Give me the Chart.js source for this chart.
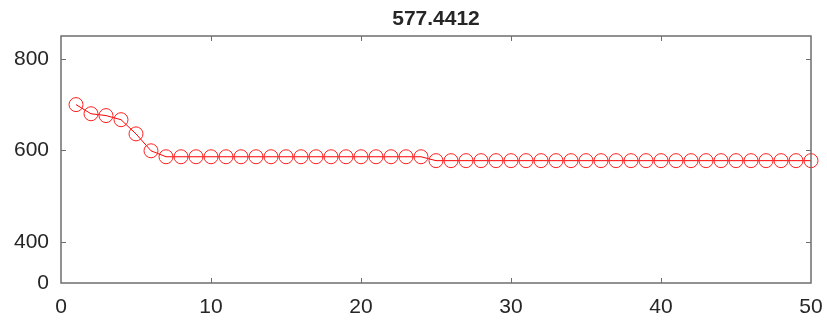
<!DOCTYPE html>
<html>
<head>
<meta charset="utf-8">
<script src="https://cdn.jsdelivr.net/npm/chart.js@4"></script>
<style>
  html, body { margin: 0; padding: 0; background: #fff; }
  #wrap { width: 827px; height: 320px; position: relative; }
</style>
</head>
<body>
<div id="wrap"><canvas id="chart"></canvas></div>
<script>
// ============================================
// Data
// ============================================
const titleText = '577.4412';

const iterations = [];
for (let i = 1; i <= 50; i++) iterations.push(i);

const fitness = [
    700, 680, 676, 667, 636, 599,
    586, 586, 586, 586, 586, 586, 586, 586, 586,
    586, 586, 586, 586, 586, 586, 586, 586, 586,
    577.4412, 577.4412, 577.4412, 577.4412, 577.4412, 577.4412, 577.4412,
    577.4412, 577.4412, 577.4412, 577.4412, 577.4412, 577.4412, 577.4412,
    577.4412, 577.4412, 577.4412, 577.4412, 577.4412, 577.4412, 577.4412,
    577.4412, 577.4412, 577.4412, 577.4412, 577.4412
];

const xTickValues = [0, 10, 20, 30, 40, 50];
// the bottom of the y axis is labelled "0" in the original figure
const yTickValues = [310, 400, 600, 800];
const yTickLabels = ['0', '400', '600', '800'];

const FONT = "'Liberation Sans', Arial, sans-serif";
const TEXT = '#262626';
const AXIS = '#6e6e6e';

// box around the axes + inward tick marks, MATLAB style
const boxPlugin = {
    id: 'box',
    afterDatasetsDraw(chart) {
        const { ctx, chartArea: a, scales } = chart;
        ctx.save();
        ctx.strokeStyle = AXIS;
        ctx.lineWidth = 1.5;
        ctx.strokeRect(a.left, a.top, a.right - a.left, a.bottom - a.top);
        ctx.lineWidth = 1;
        const len = 5;
        xTickValues.forEach(v => {
            if (v === 0 || v === 50) return;
            const x = Math.round(scales.x.getPixelForValue(v)) + 0.5;
            ctx.beginPath();
            ctx.moveTo(x, a.bottom); ctx.lineTo(x, a.bottom - len);
            ctx.moveTo(x, a.top); ctx.lineTo(x, a.top + len);
            ctx.stroke();
        });
        yTickValues.slice(1).forEach(v => {
            const y = Math.round(scales.y.getPixelForValue(v)) + 0.5;
            ctx.beginPath();
            ctx.moveTo(a.left, y); ctx.lineTo(a.left + len, y);
            ctx.moveTo(a.right, y); ctx.lineTo(a.right - len, y);
            ctx.stroke();
        });
        // title centred over the axes
        ctx.fillStyle = TEXT;
        ctx.font = 'bold 21px ' + FONT;
        ctx.textAlign = 'center';
        ctx.textBaseline = 'middle';
        ctx.fillText(titleText, (a.left + a.right) / 2, 19);
        ctx.restore();
    }
};

new Chart(document.getElementById('chart'), {
    type: 'line',
    data: {
        labels: iterations,
        datasets: [{
            data: iterations.map((x, i) => ({ x: x, y: fitness[i] })),
            borderColor: '#ff0000',
            borderWidth: 1,
            pointStyle: 'circle',
            pointRadius: 7,
            pointBorderColor: '#ff2020',
            pointBorderWidth: 1,
            pointBackgroundColor: 'rgba(0,0,0,0)',
            tension: 0,
            fill: false,
            clip: false
        }]
    },
    options: {
        responsive: true,
        maintainAspectRatio: false,
        animation: false,
        layout: { padding: { top: 36, right: 16, left: 0, bottom: 0 } },
        plugins: {
            legend: { display: false },
            title: { display: false },
            tooltip: { enabled: false }
        },
        scales: {
            x: {
                type: 'linear',
                min: 0,
                max: 50,
                afterBuildTicks: s => { s.ticks = xTickValues.map(v => ({ value: v })); },
                afterFit: s => { s.height = 37; },
                grid: { display: false },
                border: { display: false },
                ticks: { color: TEXT, font: { family: FONT, size: 21 }, padding: 4, maxRotation: 0 }
            },
            y: {
                type: 'linear',
                min: 310,
                max: 850,
                afterBuildTicks: s => { s.ticks = yTickValues.map(v => ({ value: v })); },
                afterFit: s => { s.width = 61; },
                grid: { display: false },
                border: { display: false },
                ticks: {
                    color: TEXT,
                    font: { family: FONT, size: 21 },
                    padding: 4,
                    callback: (v) => yTickLabels[yTickValues.indexOf(v)]
                }
            }
        }
    },
    plugins: [boxPlugin]
});
</script>
</body>
</html>
